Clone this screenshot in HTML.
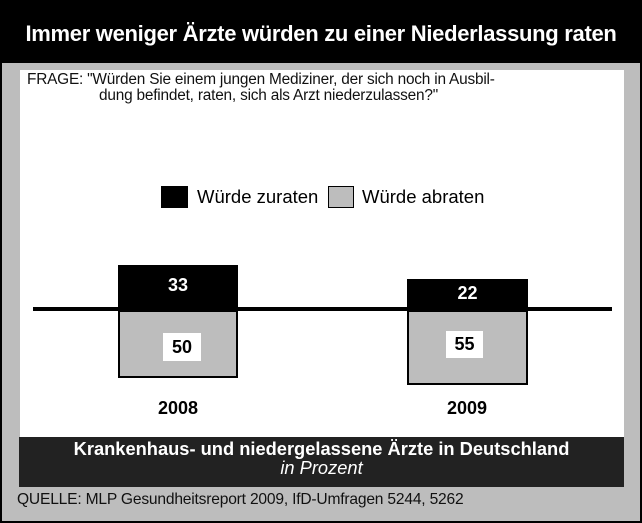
<!DOCTYPE html><html><head><style>
body{margin:0;width:642px;height:523px;overflow:hidden;background:#fff;font-family:"Liberation Sans",sans-serif}
.a{position:absolute}
</style></head><body>
<div class="a" style="left:0;top:0;width:642px;height:523px;background:#bdbdbd;box-sizing:border-box;border:2px solid #000"></div>
<div class="a" style="left:0;top:0;width:642px;height:63px;background:#000"></div>
<div class="a" style="left:0;top:21px;width:642px;text-align:center;color:#fff;font-weight:bold;font-size:22px;letter-spacing:-0.3px">Immer weniger Ärzte würden zu einer Niederlassung raten</div>
<div class="a" style="left:20px;top:70px;width:604px;height:368px;background:#fff"></div>
<div class="a" style="left:27px;top:72px;font-size:15.4px;line-height:16px;color:#111;letter-spacing:-0.2px">FRAGE: "Würden Sie einem jungen Mediziner, der sich noch in Ausbil-<br><span style="padding-left:72px">dung befindet, raten, sich als Arzt niederzulassen?"</span></div>
<div class="a" style="left:161px;top:186px;width:27px;height:22px;background:#000"></div>
<div class="a" style="left:197px;top:186px;font-size:18.5px">Würde zuraten</div>
<div class="a" style="left:328px;top:186px;width:26px;height:22px;background:#bdbdbd;border:1px solid #000;box-sizing:border-box"></div>
<div class="a" style="left:362px;top:186px;font-size:18.5px">Würde abraten</div>
<div class="a" style="left:118px;top:310px;width:120px;height:68px;background:#bdbdbd;border:2px solid #000;box-sizing:border-box"></div>
<div class="a" style="left:407px;top:310px;width:121px;height:75px;background:#bdbdbd;border:2px solid #000;box-sizing:border-box"></div>
<div class="a" style="left:33px;top:307px;width:579px;height:4px;background:#000"></div>
<div class="a" style="left:118px;top:265px;width:120px;height:45px;background:#000;color:#fff;font-weight:bold;font-size:18px;text-align:center;line-height:40px">33</div>
<div class="a" style="left:407px;top:279px;width:121px;height:31px;background:#000;color:#fff;font-weight:bold;font-size:18px;text-align:center;line-height:28px">22</div>
<div class="a" style="left:163px;top:333px;width:38px;height:28px;background:#fff;font-weight:bold;font-size:18px;text-align:center;line-height:28px">50</div>
<div class="a" style="left:446px;top:331px;width:37px;height:27px;background:#fff;font-weight:bold;font-size:18px;text-align:center;line-height:26px">55</div>
<div class="a" style="left:118px;top:398px;width:120px;text-align:center;font-weight:bold;font-size:18px">2008</div>
<div class="a" style="left:407px;top:398px;width:120px;text-align:center;font-weight:bold;font-size:18px">2009</div>
<div class="a" style="left:19px;top:437px;width:605px;height:50px;background:#222"></div>
<div class="a" style="left:19px;top:439px;width:605px;text-align:center;color:#fff;font-size:18.3px;line-height:19px"><b>Krankenhaus- und niedergelassene Ärzte in Deutschland</b><br><i>in Prozent</i></div>
<div class="a" style="left:17px;top:491px;font-size:15.6px;color:#111;letter-spacing:-0.2px">QUELLE: MLP Gesundheitsreport 2009, IfD-Umfragen 5244, 5262</div>
</body></html>
